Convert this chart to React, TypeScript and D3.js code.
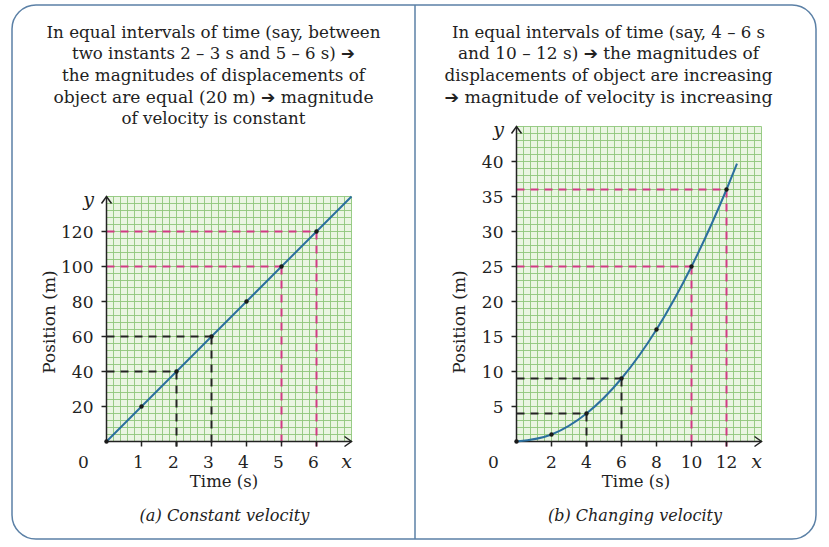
import React from "react";
import * as d3 from "d3";

const W = 829;
const H = 547;

// (a) constant velocity
const timesA = [0, 1, 2, 3, 4, 5, 6, 7];
const positionsA = [0, 20, 40, 60, 80, 100, 120, 140];
const dotTimesA = [0, 1, 2, 3, 4, 5, 6];
const blackGuidesA = [2, 3];
const pinkGuidesA = [5, 6];
const xTicksA = [1, 2, 3, 4, 5, 6];
const yTicksA = [20, 40, 60, 80, 100, 120];

// (b) changing velocity
const timesB = [0, 2, 4, 6, 8, 10, 12, 12.6];
const positionsB = [0, 1, 4, 9, 16, 25, 36, 39.7];
const dotTimesB = [0, 2, 4, 6, 8, 10, 12];
const blackGuidesB = [4, 6];
const pinkGuidesB = [10, 12];
const xTicksB = [2, 4, 6, 8, 10, 12];
const yTicksB = [5, 10, 15, 20, 25, 30, 35, 40];

const notesA = [
  ["In equal intervals of time (say, between", 334],
  ["two instants 2 – 3 s and 5 – 6 s) ➔", 283],
  ["the magnitudes of displacements of", 303],
  ["object are equal (20 m) ➔ magnitude", 320],
  ["of velocity is constant", 184],
];
const notesB = [
  ["In equal intervals of time (say, 4 – 6 s", 313],
  ["and 10 – 12 s) ➔ the magnitudes of", 301],
  ["displacements of object are increasing", 328],
  ["➔ magnitude of velocity is increasing", 328],
];

const SERIF = "'DejaVu Serif', 'Liberation Serif', serif";
const INK = "#222";
const BLUE = "#2b6f9e";
const PINK = "#d23a84";
const GRID_FILL = "#eaf5e2";
const GRID_LINE = "#8fc67a";

function NoteLines({ lines, cx }: { lines: (string | number)[][]; cx: number }) {
  return (
    <g fontFamily={SERIF} fontSize={17} fill={INK}>
      {lines.map(([txt, len], i) => {
        const parts = String(txt).split("➔");
        return (
          <text
            key={i}
            x={cx}
            y={37.5 + i * 21.7}
            textAnchor="middle"
            textLength={len as number}
            lengthAdjust="spacingAndGlyphs"
          >
            {parts.map((p, j) => (
              <React.Fragment key={j}>
                {j > 0 && (
                  <tspan fontFamily="'DejaVu Sans', sans-serif" fontSize={17} fontWeight="bold">
                    ➔
                  </tspan>
                )}
                {p}
              </React.Fragment>
            ))}
          </text>
        );
      })}
    </g>
  );
}

type PanelProps = {
  x0: number;
  y0: number;
  xMax: number;
  yMax: number;
  xStep: number;
  yStep: number;
  width: number;
  height: number;
  times: number[];
  positions: number[];
  dotTimes: number[];
  blackGuides: number[];
  pinkGuides: number[];
  xTicks: number[];
  yTicks: number[];
  curved: boolean;
  xTickShift: number;
};

function Panel(p: PanelProps) {
  const x = d3.scaleLinear().domain([0, p.xMax]).range([p.x0, p.x0 + p.width]);
  const y = d3.scaleLinear().domain([0, p.yMax]).range([p.y0, p.y0 - p.height]);
  const pts = p.times.map((t, i) => [t, p.positions[i]] as [number, number]);
  const posAt = (t: number) => p.positions[p.times.indexOf(t)];

  const path = d3
    .line<[number, number]>()
    .x((d) => x(d[0]))
    .y((d) => y(d[1]))
    .curve(p.curved ? d3.curveMonotoneX : d3.curveLinear)(pts) as string;

  const gx = d3.range(0, p.xMax + p.xStep / 2, p.xStep);
  const gy = d3.range(0, p.yMax + p.yStep / 2, p.yStep);
  const top = y(p.yMax);
  const right = x(p.xMax);

  const guide = (t: number, color: string, k: string) => {
    const v = posAt(t);
    return (
      <g key={k} stroke={color} strokeWidth={2} strokeDasharray="8 6" fill="none">
        <line x1={x(0)} x2={x(t)} y1={y(v)} y2={y(v)} />
        <line x1={x(t)} x2={x(t)} y1={y(v)} y2={p.y0 + 5} />
      </g>
    );
  };

  return (
    <g>
      <rect x={p.x0} y={top} width={p.width} height={p.height} fill={GRID_FILL} />
      <g stroke={GRID_LINE} strokeWidth={0.9}>
        {gx.map((g, i) => (
          <line key={"gx" + i} x1={x(g)} x2={x(g)} y1={top} y2={p.y0} />
        ))}
        {gy.map((g, i) => (
          <line key={"gy" + i} x1={p.x0} x2={right} y1={y(g)} y2={y(g)} />
        ))}
      </g>

      {p.blackGuides.map((t, i) => guide(t, INK, "b" + i))}
      {p.pinkGuides.map((t, i) => guide(t, PINK, "m" + i))}

      {/* axes with open arrow heads */}
      <g stroke={INK} strokeWidth={1.5} fill="none">
        <line x1={p.x0} x2={p.x0} y1={p.y0} y2={top} />
        <line x1={p.x0} x2={right} y1={p.y0} y2={p.y0} />
        <path d={`M${p.x0 - 5},${top + 7} L${p.x0},${top} L${p.x0 + 5},${top + 7}`} />
        <path d={`M${right - 7},${p.y0 - 5} L${right},${p.y0} L${right - 7},${p.y0 + 5}`} />
        {p.xTicks.map((t) => (
          <line key={"tx" + t} x1={x(t)} x2={x(t)} y1={p.y0} y2={p.y0 + 5} />
        ))}
        {p.yTicks.map((t) => (
          <line key={"ty" + t} x1={p.x0 - 5} x2={p.x0} y1={y(t)} y2={y(t)} />
        ))}
      </g>

      <path d={path} fill="none" stroke={BLUE} strokeWidth={2} />
      {p.dotTimes.map((t) => (
        <circle key={"d" + t} cx={x(t)} cy={y(posAt(t))} r={2.2} fill="#1a1a1a" />
      ))}

      <g fontFamily={SERIF} fontSize={17} fill={INK}>
        {p.xTicks.map((t) => (
          <text key={"lx" + t} x={x(t) + p.xTickShift} y={p.y0 + 26.5} textAnchor="middle">
            {t}
          </text>
        ))}
        {p.yTicks.map((t) => (
          <text key={"ly" + t} x={p.x0 - 13} y={y(t) + 6.5} textAnchor="end">
            {t}
          </text>
        ))}
        <text x={p.x0 - 23} y={p.y0 + 26.5} textAnchor="middle">
          0
        </text>
        <text x={p.x0 + p.width / 2 + (p.curved ? -3 : -5)} y={p.y0 + 45.5} textAnchor="middle" fontSize={16.5}>
          Time (s)
        </text>
        <text
          transform={`translate(${p.x0 - 52},${(p.y0 + top) / 2 + (p.curved ? 38 : 3)}) rotate(-90)`}
          textAnchor="middle"
          fontSize={17}
        >
          Position (m)
        </text>
        <text x={right - 5} y={p.y0 + 26} fontStyle="italic" fontSize={19} textAnchor="middle">
          x
        </text>
        <text x={p.x0 - 18} y={top + 9} fontStyle="italic" fontSize={19} textAnchor="middle">
          y
        </text>
      </g>
    </g>
  );
}

export default function App() {
  return (
    <svg
      width={W}
      height={H}
      viewBox={`0 0 ${W} ${H}`}
      style={{ position: "absolute", left: 0, top: 0, background: "#fff" }}
    >
      <rect x={12} y={5} width={804} height={534} rx={24} fill="#fff" stroke="#5b80a6" strokeWidth={1.5} />
      <line x1={415} x2={415} y1={5} y2={539} stroke="#5b80a6" strokeWidth={1.5} />

      <NoteLines lines={notesA} cx={213.5} />
      <NoteLines lines={notesB} cx={608.5} />

      <Panel
        x0={106.5}
        y0={441.5}
        xMax={7}
        yMax={140}
        xStep={0.2}
        yStep={4}
        width={245}
        height={245}
        times={timesA}
        positions={positionsA}
        dotTimes={dotTimesA}
        blackGuides={blackGuidesA}
        pinkGuides={pinkGuidesA}
        xTicks={xTicksA}
        yTicks={yTicksA}
        curved={false}
        xTickShift={-3}
      />
      <Panel
        x0={516.5}
        y0={441.5}
        xMax={14}
        yMax={45}
        xStep={0.4}
        yStep={1}
        width={245}
        height={315}
        times={timesB}
        positions={positionsB}
        dotTimes={dotTimesB}
        blackGuides={blackGuidesB}
        pinkGuides={pinkGuidesB}
        xTicks={xTicksB}
        yTicks={yTicksB}
        curved={true}
        xTickShift={0}
      />

      <g fontFamily={SERIF} fontStyle="italic" fontSize={17} fill={INK}>
        <text x={224.5} y={521} textAnchor="middle" textLength={170} lengthAdjust="spacingAndGlyphs">
          (a) Constant velocity
        </text>
        <text x={635} y={521} textAnchor="middle" textLength={174} lengthAdjust="spacingAndGlyphs">
          (b) Changing velocity
        </text>
      </g>
    </svg>
  );
}
